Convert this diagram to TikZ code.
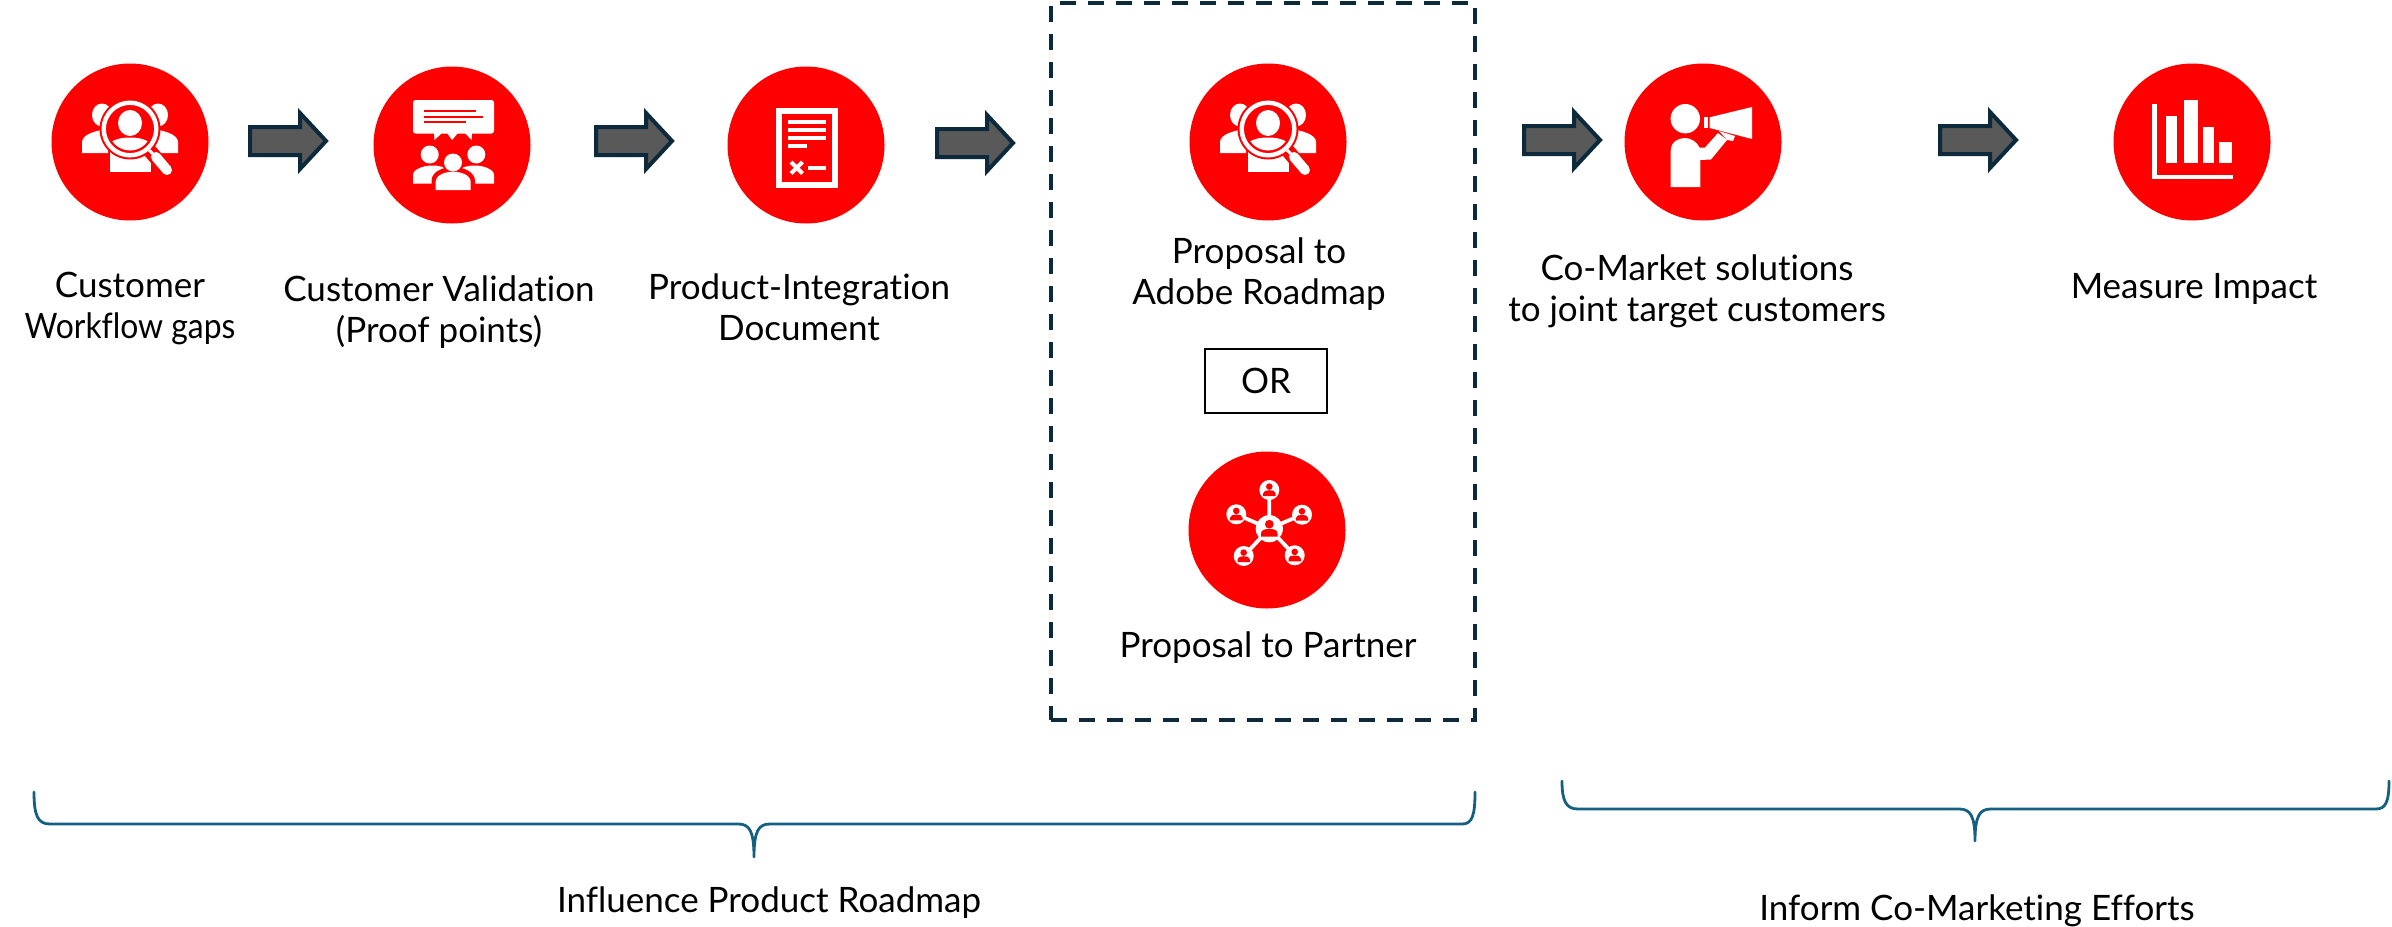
\documentclass[tikz,border=0pt]{standalone}
\usepackage{fontspec}
\setmainfont[Ligatures=NoCommon]{Lato}
\definecolor{adobered}{HTML}{FF0000}
\definecolor{darknavy}{HTML}{0C2A3C}
\definecolor{arrowgrey}{HTML}{595959}
\definecolor{bracecol}{HTML}{156082}
\tikzset{
  discnode/.style={circle,fill=adobered,minimum size=157pt,inner sep=0pt,draw=none},
  labeltext/.style={align=center,font=\fontsize{35}{41}\selectfont,text=black,inner sep=0pt},
  bracecurve/.style={draw=bracecol,line width=2.8pt,line cap=round,line join=round},
  wf/.style={fill=white,draw=none},
  rf/.style={fill=adobered,draw=none},
  blockarrow/.pic={
    \draw[fill=arrowgrey,draw=darknavy,line width=4pt,miter limit=10]
      (-38,-14)--(12,-14)--(12,-28)--(38,0)--(12,28)--(12,14)--(-38,14)--cycle;
  },
  seekicon/.pic={
    % side people
    \fill[wf] (-28,-27) ellipse (10 and 11.5);
    \fill[wf] (28,-27) ellipse (10 and 11.5);
    \fill[wf] (-48,11)--(-48,0) .. controls (-48,-8) and (-32,-12) .. (-22,-13)--(-22,11)--cycle;
    \fill[wf] (48,11)--(48,0) .. controls (48,-8) and (32,-12) .. (22,-13)--(22,11)--cycle;
    \fill[wf] (-20.5,29.5)--(20.5,29.5)--(20.5,8)--(-20.5,8)--cycle;
    % halo
    \fill[rf] (0,-13) circle (30.5);
    \draw[draw=adobered,line width=14pt,line cap=round] (20,9)--(38,30);
    % ring and handle
    \draw[draw=white,line width=4.4pt] (0,-13) circle (26.3);
    \fill[wf] (0,-19) ellipse (12 and 13);
    \begin{scope}
      \clip (0,-13) circle (21.5);
      \fill[wf] (-20,12) -- (-20,1) .. controls (-14,-4) and (-6,-4.5) .. (0,-4.5) .. controls (6,-4.5) and (14,-4) .. (20,1) -- (20,12) -- cycle;
    \end{scope}
    \draw[draw=white,line width=3pt] (19,8)--(26,15);
    \draw[draw=white,line width=10pt,line cap=round] (26,15)--(37,28);
  },
  netperson/.pic={
    \fill[rf] (0,-3.4) circle (3.3);
    \fill[rf] (-6.2,6)--(-6.2,3.5) .. controls (-6.2,0.8) and (-3,0.2) .. (0,0.2) .. controls (3,0.2) and (6.2,0.8) .. (6.2,3.5)--(6.2,6)--cycle;
  }
}
\begin{document}
\begin{tikzpicture}[x=1pt,y=-1pt]
\useasboundingbox (0,0) rectangle (2392,926);

% discs
\node[discnode] (d1) at (130,142) {};
\node[discnode] (d2) at (452,145) {};
\node[discnode] (d3) at (806,145) {};
\node[discnode] (d4) at (1268,142) {};
\node[discnode] (d5) at (1267,530) {};
\node[discnode] (d6) at (1703,142) {};
\node[discnode] (d7) at (2192,142) {};

% block arrows
\pic at (288,141) {blockarrow};
\pic at (634,141) {blockarrow};
\pic at (975,143) {blockarrow};
\pic at (1562,140) {blockarrow};
\pic at (1978,140) {blockarrow};

% icons 1 and 4
\pic at (d1) {seekicon};
\pic at (d4) {seekicon};

% icon 2
\begin{scope}[shift={(d2)}]
  \fill[wf,rounded corners=2.5pt] (-39,-45) rectangle (42,-11.5);
  \fill[wf] (-18,-12)--(-17.5,-5)--(-10,-12)--cycle;
  \fill[wf] (-5,-12)--(0,-5)--(6,-12)--cycle;
  \fill[wf] (13,-12)--(19.5,-5)--(20,-12)--cycle;
  \fill[rf] (-28,-35) rectangle (24,-33);
  \fill[rf] (-28,-29.3) rectangle (31,-27.3);
  \fill[rf] (-28,-23.6) rectangle (13.5,-21.6);
  \fill[wf] (-22.3,9.5) circle (9);
  \fill[wf] (24.3,9.5) circle (9);
  \fill[wf] (-39,38.5)--(-39,30) .. controls (-39,24) and (-28,20.5) .. (-20,20.5) .. controls (-12,20.5) and (-6,22) .. (0,28)--(-16,38.5)--cycle;
  \fill[wf] (42,38.5)--(42,30) .. controls (42,24) and (31,20.5) .. (23,20.5) .. controls (15,20.5) and (9,22) .. (3,28)--(19,38.5)--cycle;
  \fill[rf] (-20.5,46)--(-20.5,36) .. controls (-20.5,26) and (-8,22) .. (1,22) .. controls (10,22) and (23,26) .. (23,36)--(23,46)--cycle;
  \fill[rf] (1,17.5) circle (11);
  \fill[wf] (1,17.5) circle (9);
  \fill[wf] (-16.3,45)--(-16.3,37) .. controls (-16.3,30) and (-7,26.7) .. (1,26.7) .. controls (9,26.7) and (18.7,30) .. (18.7,37)--(18.7,45)--cycle;
\end{scope}

% icon 3
\begin{scope}[shift={(d3)}]
  \draw[draw=white,line width=6pt] (-27,-34) rectangle (29.3,40);
  \fill[wf] (-17.7,-25) rectangle (20,-21);
  \fill[wf] (-17.7,-17) rectangle (20,-13);
  \fill[wf] (-17.7,-9) rectangle (20,-5);
  \fill[wf] (-17.7,-0.7) rectangle (1.3,3);
  \draw[draw=white,line width=4.2pt] (-15,17)--(-3.5,28.5);
  \draw[draw=white,line width=4.2pt] (-3.5,17)--(-15,28.5);
  \fill[wf] (2.3,21) rectangle (20,25);
\end{scope}

% icon 5
\begin{scope}[shift={(d5)}]
  \coordinate (nc) at (2.3,-1.3);
  \coordinate (n1) at (2.3,-40);
  \coordinate (n2) at (-30.7,-15.7);
  \coordinate (n3) at (35,-15.3);
  \coordinate (n4) at (-23.3,26);
  \coordinate (n5) at (27.7,25.3);
  \draw[draw=white,line width=3.8pt] (nc)--(n1) (nc)--(n2) (nc)--(n3) (nc)--(n4) (nc)--(n5);
  \fill[wf] (nc) circle (13.6);
  \fill[wf] (n1) circle (10);
  \fill[wf] (n2) circle (10);
  \fill[wf] (n3) circle (10);
  \fill[wf] (n4) circle (10);
  \fill[wf] (n5) circle (10);
  \pic at (n1) {netperson};
  \pic at (n2) {netperson};
  \pic at (n3) {netperson};
  \pic at (n4) {netperson};
  \pic at (n5) {netperson};
  \pic[scale=1.32] at (nc) {netperson};
\end{scope}

% icon 6
\begin{scope}[shift={(d6)}]
  \fill[wf] (-17.7,-23.3) circle (14.7);
  \fill[wf] (-32.3,45)--(-32.3,9) .. controls (-32.3,0) and (-25,-4) .. (-18,-4) .. controls (-12,-4) and (-6,0) .. (-3.5,5.5)--(2,5.5)--(15,-9)--(24,-2)--(8,17.5)--(-2.7,18)--(-2.7,45)--cycle;
  \fill[wf] (6.7,-24.7)--(49,-35)--(49,-3)--(6.7,-14)--cycle;
  \fill[wf] (0.7,-25)rectangle(5,-14);
  \fill[wf] (16,-11)--(32,-6)--(30,-1)--(24,-2)--cycle;
\end{scope}

% icon 7
\begin{scope}[shift={(d7)}]
  \fill[wf] (-40,-38) rectangle (-35.5,37);
  \fill[wf] (-40,32.5) rectangle (41,37);
  \fill[wf] (-26,-26) rectangle (-15,21);
  \fill[wf] (-8,-42) rectangle (6,21);
  \fill[wf] (11,-15) rectangle (22,21);
  \fill[wf] (27,0) rectangle (40,21);
\end{scope}

% dashed box
\node[draw=darknavy,line width=3.5pt,dash pattern=on 16pt off 12pt,minimum width=424pt,minimum height=717pt,inner sep=0pt] (dbox) at (1263,361.5) {};
% OR box
\node[draw=black,line width=2pt,minimum width=122pt,minimum height=64pt,inner sep=0pt] (orbox) at (1266,381) {};

% labels
\node[labeltext] (t1) at (130,309) {Customer\\\scalebox{0.91}[1]{Workflow gaps}};
\node[labeltext] (t2) at (439,312) {Customer Validation\\(Proof points)};
\node[labeltext] (t3) at (799,307) {Product-Integration\\Document};
\node[labeltext] (t4) at (1259,274) {Proposal to\\Adobe Roadmap};
\node[labeltext] (t5) at (orbox.center) {OR};
\node[labeltext] (t6) at (1268,648) {Proposal to Partner};
\node[labeltext] (t7) at (1697,291) {Co-Market solutions\\to joint target customers};
\node[labeltext] (t8) at (2194,289) {Measure Impact};
\node[labeltext] (t9) at (769,903) {Influence Product Roadmap};
\node[labeltext] (t10) at (1977,911) {Inform Co-Marketing Efforts};

% braces
\coordinate (b1l) at (34,792);
\coordinate (b1m) at (754,857);
\coordinate (b1r) at (1475,792);
\draw[bracecurve] (b1l) .. controls (34,816) and (38,824) .. (50,824) -- (738,824) .. controls (749,824) and (754,830) .. (b1m) .. controls (754,830) and (759,824) .. (770,824) -- (1462,824) .. controls (1472,824) and (1475,816) .. (b1r);
\coordinate (b2l) at (1562,781);
\coordinate (b2m) at (1975,841);
\coordinate (b2r) at (2389,781);
\draw[bracecurve] (b2l) .. controls (1562,801) and (1566,809) .. (1578,809) -- (1959,809) .. controls (1970,809) and (1975,815) .. (b2m) .. controls (1975,815) and (1980,809) .. (1991,809) -- (2376,809) .. controls (2386,809) and (2389,801) .. (b2r);
\end{tikzpicture}
\end{document}
